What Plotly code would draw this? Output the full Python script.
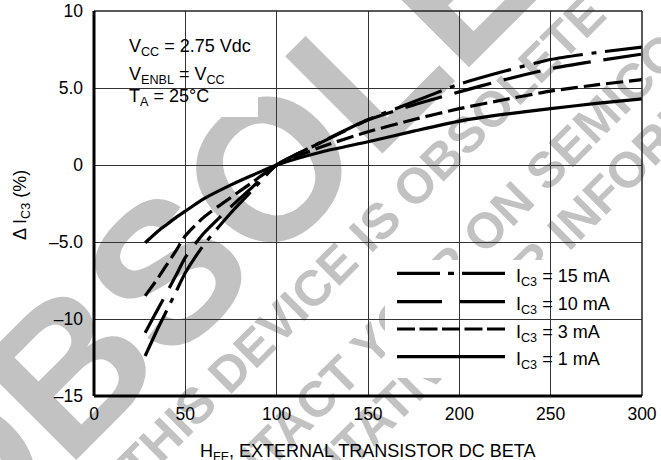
import plotly.graph_objects as go

# ---------------- data ----------------
beta = [28, 35, 40, 45, 50, 60, 75, 87, 100, 125, 150, 175, 200, 225, 250, 275, 300]
delta_ic3_1mA = [-5.05, -4.3, -3.85, -3.4, -3.0, -2.2, -1.29, -0.65, 0.0, 0.86, 1.51, 2.2, 2.85, 3.3, 3.66, 4.0, 4.3]
delta_ic3_3mA = [-8.5, -7.35, -6.45, -5.55, -4.6, -3.4, -2.1, -1.1, 0.0, 1.2, 2.16, 2.95, 3.66, 4.25, 4.8, 5.2, 5.55]
delta_ic3_10mA = [-10.9, -9.35, -8.25, -7.15, -6.0, -4.45, -2.7, -1.4, 0.0, 1.5, 2.92, 3.9, 4.75, 5.55, 6.25, 6.75, 7.2]
delta_ic3_15mA = [-12.4, -10.6, -9.4, -8.2, -7.0, -5.2, -3.1, -1.6, 0.0, 1.52, 2.95, 4.1, 5.25, 6.1, 6.85, 7.3, 7.65]

series_labels = ["I<sub>C3</sub> = 15 mA", "I<sub>C3</sub> = 10 mA", "I<sub>C3</sub> = 3 mA", "I<sub>C3</sub> = 1 mA"]
x_tick_values = [0, 50, 100, 150, 200, 250, 300]
y_tick_values = [-15, -10, -5, 0, 5, 10]
y_tick_labels = ["–15", "–10", "–5.0", "0", "5.0", "10"]
conditions = ["V<sub>CC</sub> = 2.75 Vdc", "V<sub>ENBL</sub> = V<sub>CC</sub>", "T<sub>A</sub> = 25°C"]
watermark_big = "OBSOLETE"
watermark_lines = ["THIS DEVICE IS OBSOLETE", "CONTACT YOUR ON SEMICONDUCTOR", "REPRESENTATIVE FOR INFORMATION"]

# ---------------- geometry / style ----------------
W, H = 661, 460
PL, PR, PT, PB = 94, 642, 11, 396
FONT = "Liberation Sans, Arial, Helvetica, sans-serif"
FS = 18
TFS = 17.5
LW = 3.2
WM_COLOR = "#c2c2c2"


def pp(x, y):
    """pixel -> paper coordinates"""
    return (x - PL) / (PR - PL), (PB - y) / (PB - PT)


series = [
    (delta_ic3_15mA, "50px,9px,5px,9px", "43px,8px,6px,8px,80px"),
    (delta_ic3_10mA, "38px,13px", "45px,18px,80px"),
    (delta_ic3_3mA, "17px,6px", "18px,4.5px"),
    (delta_ic3_1mA, "solid", "solid"),
]

fig = go.Figure()
for (vals, dash, _), name in zip(series, series_labels):
    fig.add_trace(go.Scatter(
        x=beta, y=vals, mode="lines", name=name,
        line=dict(color="black", width=LW, dash=dash, shape="spline", smoothing=0.6),
        showlegend=False, hoverinfo="skip",
    ))

shapes = []
annotations = []

# watermark (below everything)
cx, cy = pp(283, 128)
shapes.append(dict(type="rect", xref="paper", yref="paper", x0=cx - 0.01, x1=cx + 0.01, y0=cy - 0.01, y1=cy + 0.01,
                   layer="below", line=dict(width=0), fillcolor="rgba(0,0,0,0)",
                   label=dict(text=watermark_big, textangle=-45, textposition="middle center",
                              font=dict(family=FONT, size=200, color=WM_COLOR, weight="bold"))))
for text, (wx, wy) in zip(watermark_lines, [(358, 236), (512, 197), (472, 318)]):
    cx, cy = pp(wx, wy)
    shapes.append(dict(type="rect", xref="paper", yref="paper", x0=cx - 0.01, x1=cx + 0.01, y0=cy - 0.01, y1=cy + 0.01,
                       layer="below", line=dict(width=0), fillcolor="rgba(0,0,0,0)",
                       label=dict(text=text, textangle=-45, textposition="middle center",
                                  font=dict(family=FONT, size=50, color=WM_COLOR, weight="bold"))))

# white boxes covering gridlines
for (x0, y0, x1, y1) in [(118, 25, 258, 117), (385, 260, 630, 378)]:
    a0, b0 = pp(x0, y1)
    a1, b1 = pp(x1, y0)
    shapes.append(dict(type="rect", xref="paper", yref="paper", x0=a0, x1=a1, y0=b0, y1=b1,
                       layer="between", line=dict(width=0), fillcolor="white"))

# frame
shapes += [
    dict(type="line", xref="paper", yref="paper", x0=0, x1=1, y0=1, y1=1, line=dict(color="#222", width=1.5), layer="above"),
    dict(type="line", xref="paper", yref="paper", x0=1, x1=1, y0=0, y1=1, line=dict(color="#222", width=1.5), layer="above"),
    dict(type="line", xref="paper", yref="paper", x0=0, x1=0, y0=0, y1=1, line=dict(color="black", width=3), layer="above"),
    dict(type="line", xref="paper", yref="paper", x0=0, x1=1, y0=0, y1=0, line=dict(color="black", width=3), layer="above"),
]

# custom legend
row_y = [273.3, 301.7, 329.0, 356.7]
for (vals, _, ldash), name, ry in zip(series, series_labels, row_y):
    a0, b = pp(397, ry)
    a1, _b = pp(505, ry)
    shapes.append(dict(type="line", xref="paper", yref="paper", x0=a0, x1=a1, y0=b, y1=b,
                       line=dict(color="black", width=LW, dash=ldash), layer="above"))
    tx, ty = pp(514, ry + 4)
    annotations.append(dict(xref="paper", yref="paper", x=tx, y=ty, xanchor="left", yanchor="middle",
                            text=name, showarrow=False, font=dict(family=FONT, size=FS, color="black")))

# conditions text
for text, cyp in zip(conditions, [47, 75, 98]):
    tx, ty = pp(127, cyp)
    annotations.append(dict(xref="paper", yref="paper", x=tx, y=ty, xanchor="left", yanchor="middle",
                            text=text, showarrow=False, font=dict(family=FONT, size=FS, color="black")))

# axis titles
tx, ty = pp(368, 452)
annotations.append(dict(xref="paper", yref="paper", x=tx, y=ty, xanchor="center", yanchor="middle",
                        text="H<sub>FE</sub>, EXTERNAL TRANSISTOR DC BETA", showarrow=False,
                        font=dict(family=FONT, size=FS, color="black")))
tx, ty = pp(22, 205)
annotations.append(dict(xref="paper", yref="paper", x=tx, y=ty, xanchor="center", yanchor="middle",
                        text="Δ I<sub>C3</sub> (%)", textangle=-90, showarrow=False,
                        font=dict(family=FONT, size=FS, color="black")))

fig.update_layout(
    width=W, height=H,
    margin=dict(l=PL, r=W - PR, t=PT, b=H - PB, pad=0, autoexpand=False),
    paper_bgcolor="white", plot_bgcolor="rgba(0,0,0,0)",
    shapes=shapes, annotations=annotations, showlegend=False,
    font=dict(family=FONT, size=FS, color="black"),
    xaxis=dict(range=[0, 300], tickvals=x_tick_values, showgrid=True, gridcolor="#333", gridwidth=1.2,
               zeroline=False, showline=False, ticks="", ticklabelstandoff=5, automargin=False,
               tickfont=dict(family=FONT, size=TFS, color="black")),
    yaxis=dict(range=[-15, 10], tickvals=y_tick_values, ticktext=y_tick_labels, showgrid=True,
               gridcolor="#333", gridwidth=1.2, zeroline=False, showline=False, ticks="", automargin=False,
               ticklabelstandoff=10, tickfont=dict(family=FONT, size=TFS, color="black")),
)

fig.write_html("out.html", config={"displayModeBar": False},
               post_script="document.body.style.margin='0';document.body.style.overflow='hidden';")
